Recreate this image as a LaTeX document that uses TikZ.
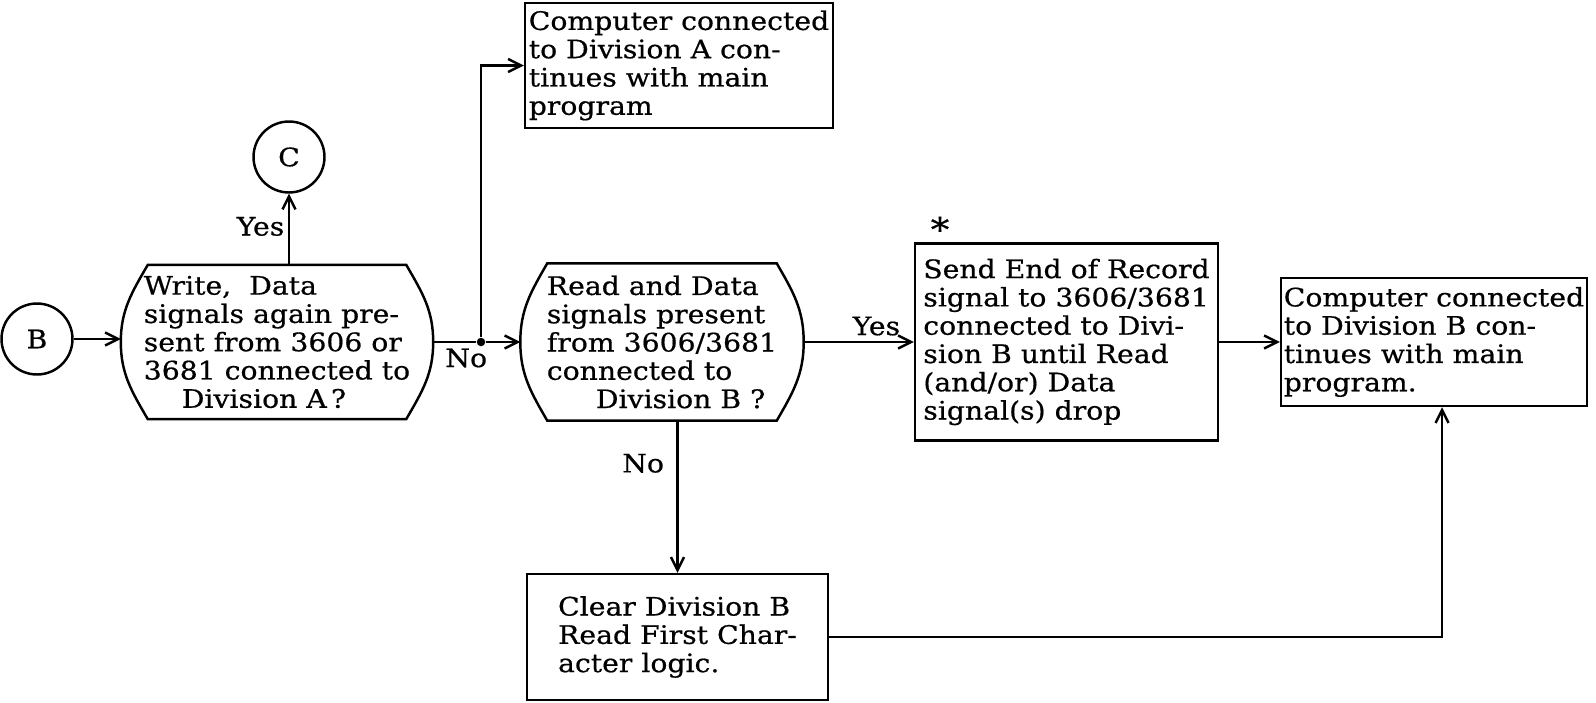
\documentclass[tikz,border=0pt]{standalone}
\usepackage{fontspec}
\setmainfont{DejaVu Serif}[FakeStretch=1.11, FakeBold=0.6]
\usetikzlibrary{arrows.meta}
\newcommand\chartfont{\fontsize{14.5}{16.1}\selectfont}
% outline of a decision node: flat top and bottom, bulging sides
\newcommand\drawdecision[2]{%
  \draw ([xshift=#2]#1.north west) -- ([xshift=-#2]#1.north east)
    to[out=-60,in=90] (#1.east) to[out=-90,in=60] ([xshift=-#2]#1.south east)
    -- ([xshift=#2]#1.south west) to[out=120,in=-90] (#1.west)
    to[out=90,in=-120] cycle;}

\begin{document}
\begin{tikzpicture}[
  x=0.02cm, y=-0.02cm,
  line width=1.4pt,
  every node/.style={font=\chartfont},
  connector/.style={circle, draw, minimum size=1.42cm, inner sep=0pt},
  decision/.style={rectangle, inner sep=0pt, align=left},
  stepbox/.style={rectangle, draw, inner sep=0pt, align=left},
  junction/.style={circle, fill, minimum size=1.7mm, inner sep=0pt},
  lbl/.style={inner sep=2pt},
  >={Straight Barb[length=2.6mm,width=2.6mm]}
]
  \useasboundingbox (0,0) rectangle (1596,703);
  \node[connector] (B) at (37,339) {B};
  \node[connector] (C) at (289,157) {C};
  \node[decision, minimum width=6.2cm, minimum height=3.04cm] (decA) at (277,342)
    {Write, \ Data\\signals again pre-\\sent from 3606 or\\3681 connected to\\\hspace*{0.76cm}Division A\,?};
  \node[junction] (dot) at (481,342) {};
  \node[decision, minimum width=5.62cm, minimum height=3.1cm] (decB) at (662,342)
    {Read and Data\\signals present\\from 3606/3681\\connected to\\\hspace*{0.98cm}Division B ?};
  \node[stepbox, minimum width=6.16cm, minimum height=2.5cm] (contA) at (679,65.5)
    {Computer connected\\to Division A con-\\tinues with main\\program};
  \node[stepbox, minimum width=6.06cm, minimum height=3.94cm] (eor) at (1066.5,342)
    {Send End of Record\\signal to 3606/3681\\connected to Divi-\\sion B until Read\\(and/or) Data\\signal(s) drop};
  \node[font=\fontsize{19}{20}\selectfont] (star) at (940,229) {*};
  \node[stepbox, minimum width=6.12cm, minimum height=2.56cm] (contB) at (1434,342)
    {Computer connected\\to Division B con-\\tinues with main\\program.};
  \node[stepbox, minimum width=6.02cm, minimum height=2.52cm] (clear) at (677.5,637)
    {Clear Division B\\Read First Char-\\acter logic.};
  \drawdecision{decA}{0.54cm}
  \drawdecision{decB}{0.54cm}
  % Write/Data test
  \draw[->] (B.east) -- (B.east -| decA.west);
  \draw[->] (C |- decA.north) -- node[lbl, left, pos=0.54]{Yes} (C);
  \draw (decA.east) -- node[lbl, below, inner sep=3pt, pos=0.78]{No} (dot);
  \draw[->] (dot) |- (contA.west);
  \draw[->] (dot) -- (decB.west);
  % Read/Data test
  \draw[->] (decB.east) -- node[lbl, above, inner sep=3pt, pos=0.66]{Yes} (eor.west);
  \draw[->] (decB.south -| clear.north) -- node[lbl, left=5pt, pos=0.28]{No} (clear.north);
  \draw[->] (eor.east) -- (contB.west);
  \draw[->] (clear.east) -| ([xshift=0.16cm]contB.south);
\end{tikzpicture}
\end{document}
